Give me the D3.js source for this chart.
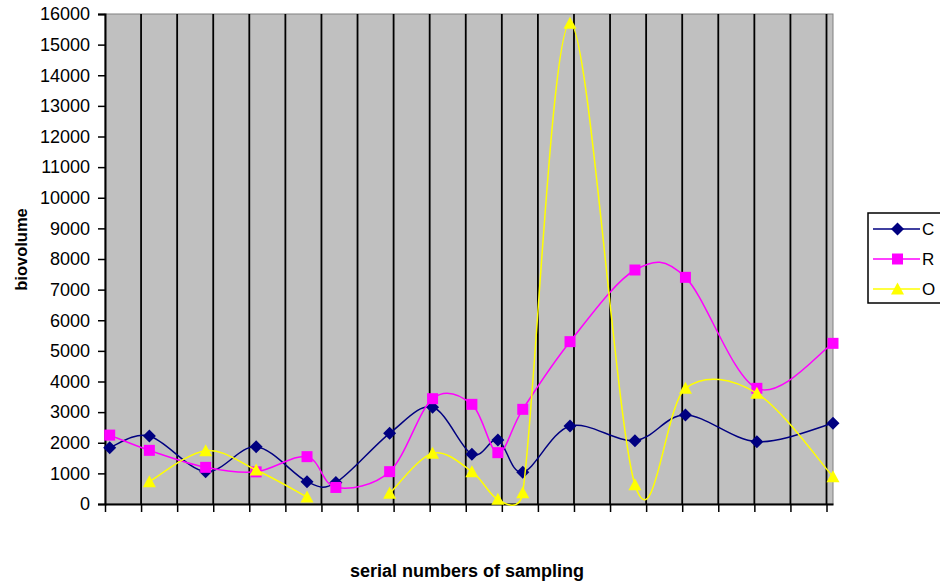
<!DOCTYPE html>
<html>
<head>
<meta charset="utf-8">
<script src="https://cdn.jsdelivr.net/npm/d3@7/dist/d3.min.js"></script>
<style>
  html, body { margin: 0; padding: 0; background: #fff; }
  svg { display: block; font-family: "Liberation Sans", Arial, sans-serif; }
</style>
</head>
<body>
<svg id="chart" width="940" height="584"></svg>
<script>
// Sampling positions along the time axis (axis units, one gridline per unit)
const samplePos = [0.13, 1.23, 2.79, 4.19, 5.60, 6.40, 7.89, 9.08, 10.17, 10.89, 11.58, 12.89, 14.69, 16.09, 18.07, 20.18];

// Biovolume per series (null = no sample)
const seriesC = [1840, 2220, 1055, 1870, 729, 700, 2307, 3157, 1622, 2090, 1034, 2547, 2068, 2906, 2035, 2634];
const seriesR = [2250, 1752, 1197, 1050, 1546, 540, 1056, 3439, 3254, 1676, 3091, 5301, 7641, 7401, 3777, 5246];
const seriesO = [null, 729, 1741, 1110, 230, null, 348, 1654, 1056, 152, 370, 15700, 630, 3777, 3613, 893];

const seriesNames = ["C", "R", "O"];
const seriesColors = ["#000080", "#ff00ff", "#ffff00"];
const seriesShapes = ["diamond", "square", "triangle"];
const yTicks = d3.range(0, 16001, 1000);
const xGridUnits = d3.range(0, 21, 1);

const svg = d3.select("#chart");
const plot = { left: 105, right: 833, top: 14, bottom: 504 };

const x = d3.scaleLinear().domain([0, d3.max(samplePos)]).range([plot.left, plot.right]);
const y = d3.scaleLinear().domain([0, 16000]).range([plot.bottom, plot.top]);

// Plot background
svg.append("rect")
  .attr("x", plot.left).attr("y", plot.top)
  .attr("width", plot.right - plot.left).attr("height", plot.bottom - plot.top)
  .attr("fill", "#c0c0c0").attr("stroke", "#808080").attr("stroke-width", 1);

// Vertical gridlines
svg.append("g").selectAll("line").data(xGridUnits.slice(1)).join("line")
  .attr("x1", d => x(d)).attr("x2", d => x(d))
  .attr("y1", plot.top).attr("y2", plot.bottom)
  .attr("stroke", "#000").attr("stroke-width", 1.8);

// Y axis
const yAxis = d3.axisLeft(y).tickValues(yTicks).tickFormat(d3.format("d")).tickSize(7).tickPadding(8);
const gy = svg.append("g").attr("transform", `translate(${plot.left},0)`).call(yAxis);
gy.select(".domain").attr("stroke", "#000").attr("stroke-width", 2);
gy.selectAll(".tick line").attr("stroke", "#000").attr("stroke-width", 1.5);
gy.selectAll(".tick text").attr("font-size", 18).attr("fill", "#000")
  .attr("font-family", "'Liberation Sans', Arial, sans-serif");

// X axis (tick marks only)
const xAxis = d3.axisBottom(x).tickValues(xGridUnits).tickFormat("").tickSize(8).tickSizeOuter(0);
const gx = svg.append("g").attr("transform", `translate(0,${plot.bottom})`).call(xAxis);
gx.select(".domain").attr("stroke", "#000").attr("stroke-width", 2);
gx.selectAll(".tick line").attr("stroke", "#000").attr("stroke-width", 1.5);

// Smoothed line: Bezier segments with Catmull-Rom tangents (1/6),
// scaled down when the handles are longer than the segment itself.
function smoothPath(pts) {
  const p = d3.path();
  const n = pts.length;
  if (!n) return "";
  const tan = pts.map((pt, i) => {
    const a = pts[Math.max(0, i - 1)], b = pts[Math.min(n - 1, i + 1)];
    return [(b[0] - a[0]) / 6, (b[1] - a[1]) / 6];
  });
  p.moveTo(pts[0][0], pts[0][1]);
  for (let i = 0; i < n - 1; i++) {
    const a = pts[i], b = pts[i + 1];
    const chord = Math.hypot(b[0] - a[0], b[1] - a[1]);
    const handles = Math.hypot(...tan[i]) + Math.hypot(...tan[i + 1]);
    const s = handles > chord ? chord / handles : 1;
    p.bezierCurveTo(
      a[0] + tan[i][0] * s, a[1] + tan[i][1] * s,
      b[0] - tan[i + 1][0] * s, b[1] - tan[i + 1][1] * s,
      b[0], b[1]);
  }
  return p.toString();
}

function segments(vals) {
  const out = [];
  let cur = [];
  vals.forEach((v, j) => {
    if (v === null) { if (cur.length) out.push(cur); cur = []; }
    else cur.push([x(samplePos[j]), y(v)]);
  });
  if (cur.length) out.push(cur);
  return out;
}

function markerPath(shape) {
  if (shape === "diamond") return "M0,-6.5L6.5,0L0,6.5L-6.5,0Z";
  if (shape === "square") return "M-5.5,-5.5H5.5V5.5H-5.5Z";
  return "M0,-6.5L6.5,5.5H-6.5Z";
}

const allSeries = [seriesC, seriesR, seriesO];
allSeries.forEach((vals, i) => {
  const g = svg.append("g");
  g.selectAll("path.ln").data(segments(vals)).join("path")
    .attr("class", "ln")
    .attr("d", smoothPath)
    .attr("fill", "none").attr("stroke", seriesColors[i]).attr("stroke-width", 1.5);
  const pts = vals.map((v, j) => ({ x: samplePos[j], v })).filter(p => p.v !== null);
  g.selectAll("path.m").data(pts).join("path")
    .attr("class", "m")
    .attr("d", markerPath(seriesShapes[i]))
    .attr("transform", d => `translate(${x(d.x)},${y(d.v)})`)
    .attr("fill", seriesColors[i]);
});

// Axis titles
svg.append("text")
  .attr("transform", "translate(27,249.5) rotate(-90)")
  .attr("text-anchor", "middle").attr("font-weight", "bold").attr("font-size", 16.5)
  .text("biovolume");
svg.append("text")
  .attr("x", 467).attr("y", 577)
  .attr("text-anchor", "middle").attr("font-weight", "bold").attr("font-size", 18)
  .text("serial numbers of sampling");

// Legend
const legend = svg.append("g");
legend.append("rect").attr("x", 868).attr("y", 213).attr("width", 100).attr("height", 90)
  .attr("fill", "#fff").attr("stroke", "#000").attr("stroke-width", 1.5);
seriesNames.forEach((name, i) => {
  const ly = 229 + i * 30;
  legend.append("line").attr("x1", 873).attr("x2", 920).attr("y1", ly).attr("y2", ly)
    .attr("stroke", seriesColors[i]).attr("stroke-width", 1.5);
  legend.append("path").attr("d", markerPath(seriesShapes[i]))
    .attr("transform", `translate(897.5,${ly})`).attr("fill", seriesColors[i]);
  legend.append("text").attr("x", 922).attr("y", ly).attr("dy", "0.36em")
    .attr("font-size", 17).text(name);
});
</script>
</body>
</html>
